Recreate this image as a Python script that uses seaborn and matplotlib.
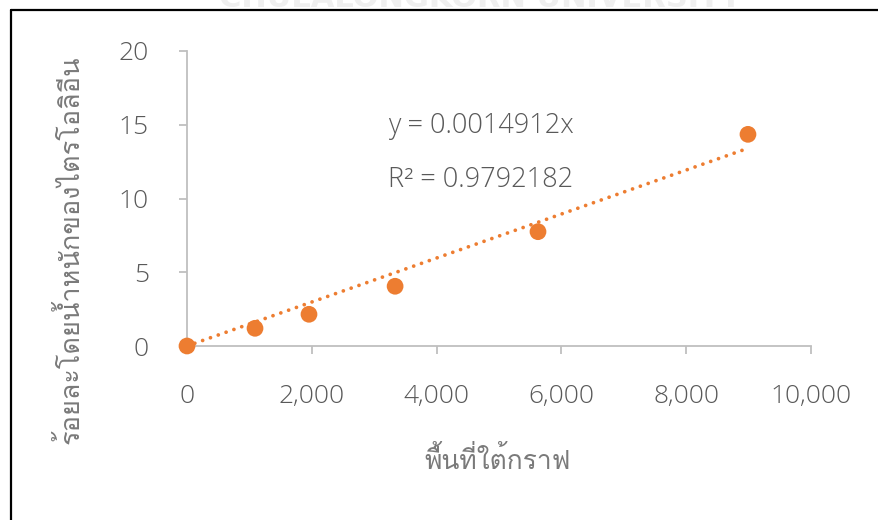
import numpy as np
import pandas as pd
import seaborn as sns
import matplotlib
matplotlib.use("Agg")
import matplotlib.pyplot as plt
from matplotlib import font_manager as fm
from matplotlib.ft2font import FT2Font
from matplotlib.lines import Line2D
from matplotlib.ticker import FuncFormatter

# Measured data: area under the curve vs. triolein weight percent
area = [0, 1090, 1955, 3335, 5625, 8990]
triolein_pct = [0.0, 1.2, 2.15, 4.05, 7.75, 14.35]

# Linear fit through the origin
slope = 0.0014912
r_squared = 0.9792182

x_ticks = [0, 2000, 4000, 6000, 8000, 10000]
y_ticks = [0, 5, 10, 15, 20]

x_label = "พื้นที่ใต้กราฟ"
y_label = "ร้อยละโดยน้ำหนักของไตรโอลิอีน"
watermark = "CHULALONGKORN UNIVERSITY"

ORANGE = "#ED7D31"
AXIS_GREY = "#BFBFBF"
TEXT_GREY = "#595959"
LABEL_GREY = "#7A7A7A"
NUM_FAMILY = ["Open Sans", "DejaVu Sans"]


def _weight_value(w):
    if isinstance(w, (int, float)):
        return w
    return fm.weight_dict.get(str(w), 400)


def thai_font_file(ch="ก"):
    """Path of the lightest upright installed font that contains the character."""
    found = []
    for entry in fm.fontManager.ttflist:
        if entry.style != "normal":
            continue
        try:
            if ord(ch) in FT2Font(entry.fname).get_charmap():
                found.append((abs(_weight_value(entry.weight) - 350), entry.fname))
        except Exception:
            continue
    return sorted(found)[0][1] if found else None


thai_path = thai_font_file()


def label_font(size):
    if thai_path:
        return fm.FontProperties(fname=thai_path, size=size)
    return fm.FontProperties(family="DejaVu Sans", size=size)


sns.set_theme(style="white")
plt.rcParams["font.family"] = NUM_FAMILY

df = pd.DataFrame({"area": area, "pct": triolein_pct})
fit_x = np.array([min(area), max(area)], dtype=float)
fit_df = pd.DataFrame({"area": fit_x, "pct": slope * fit_x})

fig = plt.figure(figsize=(8.79, 5.20), dpi=100)
fig.patch.set_facecolor("white")
ax = fig.add_axes([187 / 879, 1 - 346 / 520, (811 - 187) / 879, (346 - 51) / 520])

sns.lineplot(data=fit_df, x="area", y="pct", ax=ax, color=ORANGE,
             linewidth=2.7, dashes=False, zorder=2)
trend = ax.lines[-1]
trend.set_linestyle((0, (0.01, 2.2)))
trend.set_dash_capstyle("round")
sns.scatterplot(data=df, x="area", y="pct", ax=ax, color=ORANGE, s=145,
                edgecolor="none", zorder=3, clip_on=False)

ax.set_xlim(0, 10000)
ax.set_ylim(0, 20)
ax.set_xticks(x_ticks)
ax.set_yticks(y_ticks)
ax.xaxis.set_major_formatter(FuncFormatter(lambda v, _: f"{int(v):,}"))

for side in ["top", "right"]:
    ax.spines[side].set_visible(False)
for side in ["left", "bottom"]:
    ax.spines[side].set_color(AXIS_GREY)
    ax.spines[side].set_linewidth(1.3)

ax.tick_params(axis="both", which="major", direction="out", color=AXIS_GREY,
               width=1.3, length=5.5, labelcolor=TEXT_GREY, labelsize=19,
               bottom=True, left=True)
ax.tick_params(axis="y", pad=22)
ax.tick_params(axis="x", pad=22)
for lab in ax.get_xticklabels() + ax.get_yticklabels():
    lab.set_family(NUM_FAMILY)
    lab.set_fontweight("light")

ax.set_xlabel(x_label, fontproperties=label_font(19), color=LABEL_GREY)
ax.set_ylabel(y_label, fontproperties=label_font(19.5), color=LABEL_GREY)
ax.xaxis.set_label_coords((498 - 187) / (811 - 187), -(460 - 346) / (346 - 51))
ax.yaxis.set_label_coords(-(187 - 70) / (811 - 187), (346 - 250) / (346 - 51))
ax.xaxis.label.set_va("center")
ax.yaxis.label.set_va("center")

# Fit equation and coefficient of determination
fig.text(388 / 879, 1 - 126 / 520, f"y = {slope:.7f}x", fontsize=19.5,
         color=TEXT_GREY, family=NUM_FAMILY, fontweight="light", va="center")
fig.text(388 / 879, 1 - 180 / 520, f"R² = {r_squared:.7f}", fontsize=19.5,
         color=TEXT_GREY, family=NUM_FAMILY, fontweight="light", va="center")

# Page frame around the chart (left and top edges)
fig.add_artist(Line2D([11 / 879, 11 / 879], [0, 1 - 10 / 520], transform=fig.transFigure,
                      color="black", linewidth=1.6))
fig.add_artist(Line2D([11 / 879, 1], [1 - 10 / 520, 1 - 10 / 520], transform=fig.transFigure,
                      color="black", linewidth=1.6))

# Faint institution watermark along the top edge
fig.text(480 / 879, 1 - 7 / 520, watermark, ha="center", va="baseline",
         fontsize=22, fontweight="bold", color="#EFEFEF",
         family=["Liberation Sans Narrow", "DejaVu Sans"], zorder=0)

fig.savefig("out.png", dpi=100, facecolor="white")
